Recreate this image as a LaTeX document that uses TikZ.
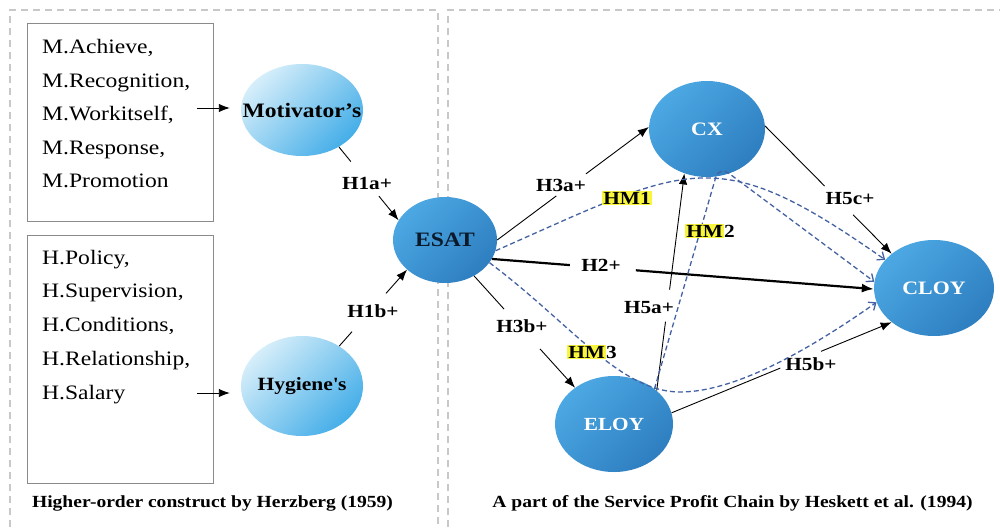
\documentclass[tikz,border=0pt]{standalone}
\usepackage{fontspec}
\setmainfont{Liberation Serif}[FakeStretch=1.15]
\usetikzlibrary{arrows.meta,shapes.geometric,calc}
\definecolor{lbA}{HTML}{D6EEFA}
\definecolor{lbB}{HTML}{45AEE8}
\definecolor{dbA}{HTML}{4CA8E3}
\definecolor{dbB}{HTML}{2E7EC0}
\definecolor{hmblue}{HTML}{4462A2}
\definecolor{hlyellow}{HTML}{F7F53C}
\definecolor{panelgray}{HTML}{C8C8C8}
\definecolor{boxgray}{HTML}{8A8A8A}
\definecolor{esattext}{HTML}{0B1A2B}
\newcommand\myfs[1]{\fontsize{#1}{#1}\selectfont}
\begin{document}
\begin{tikzpicture}[x=1pt,y=-1pt,
  panel/.style={draw=panelgray,line width=1.1pt,dash pattern=on 7pt off 5pt},
  listbox/.style={draw=boxgray,line width=0.9pt,inner sep=0pt},
  listtxt/.style={anchor=base west,inner sep=0pt,font=\myfs{20.5}},
  lightell/.style={ellipse,inner sep=0pt,top color=lbA,bottom color=lbB,shading angle=45,font=\bfseries\myfs{19}},
  darkell/.style={ellipse,inner sep=0pt,top color=dbA,bottom color=dbB,shading angle=45,text=white,font=\bfseries\myfs{19}},
  hyp/.style={inner sep=0pt,font=\bfseries\myfs{18.5}},
  hmlab/.style={inner sep=0pt,font=\bfseries\myfs{18.5}\setlength\fboxsep{1pt}},
  conn/.style={line width=0.9pt},
  arr/.style={line width=0.9pt,-{Latex[length=11pt,width=8.5pt]}},
  thickarr/.style={line width=2.2pt,-{Latex[length=12pt,width=9pt]}},
  hmpath/.style={draw=hmblue,line width=1.3pt,dash pattern=on 5pt off 3pt,-{Straight Barb[length=6pt,width=10pt]}},
  caption/.style={inner sep=0pt,font=\bfseries\myfs{17}}
]
\useasboundingbox (0,0) rectangle (1000,527);

% panels
\draw[panel] (10,527) -- (10,10) -- (438,10) -- (438,527);
\draw[panel] (448,527) -- (448,10) -- (1000,10);

% list boxes
\node[listbox,minimum width=186pt,minimum height=198pt] (mbox) at (120,122) {};
\node[listbox,minimum width=186pt,minimum height=248pt] (hbox) at (120,359) {};

\node[listtxt] (m1) at (42,53.5) {M.Achieve,};
\node[listtxt] (m2) at (42,87) {M.Recognition,};
\node[listtxt] (m3) at (42,120.5) {M.Workitself,};
\node[listtxt] (m4) at (42,154) {M.Response,};
\node[listtxt] (m5) at (42,187) {M.Promotion};

\node[listtxt] (h1) at (42,264) {H.Policy,};
\node[listtxt] (h2) at (42,297.5) {H.Supervision,};
\node[listtxt] (h3) at (42,331.5) {H.Conditions,};
\node[listtxt] (h4) at (42,365.5) {H.Relationship,};
\node[listtxt] (h5) at (42,399) {H.Salary};

% construct ellipses
\node[lightell,minimum width=122pt,minimum height=92pt,font=\bfseries\myfs{20.5}] (mot) at (302,110) {\makebox[0pt]{Motivator’s}};
\node[lightell,minimum width=122pt,minimum height=100pt,font=\bfseries\myfs{18.7}] (hyg) at (302,386) {\makebox[0pt]{Hygiene\textquotesingle s}};
\node[darkell,minimum width=104pt,minimum height=86pt,text=esattext,font=\bfseries\myfs{20.5}] (esat) at (445,240) {\makebox[0pt]{ESAT}};
\node[darkell,minimum width=116pt,minimum height=96pt] (cx) at (707,129) {\makebox[0pt]{CX}};
\node[darkell,minimum width=120pt,minimum height=96pt] (cloy) at (934,288) {\makebox[0pt]{CLOY}};
\node[darkell,minimum width=118pt,minimum height=96pt,font=\bfseries\myfs{18.5}] (eloy) at (614,424) {\makebox[0pt]{ELOY}};

% box arrows
\coordinate (ma) at (197,108);
\coordinate (ha) at (197,393);
\draw[arr,shorten >=11pt] (ma) -- (ma -| mot.west);
\draw[arr,shorten >=11pt] (ha) -- (ha -| hyg.west);

% hypothesis labels
\node[hyp] (l1a) at (367,183) {H1a+};
\node[hyp] (l1b) at (373,311) {H1b+};
\node[hyp] (l3a) at (561,185) {H3a+};
\node[hyp] (l2) at (601,265) {H2+};
\node[hyp] (l3b) at (522,326) {H3b+};
\node[hyp] (l5a) at (649,308) {H5a+};
\node[hyp] (l5b) at (811,364) {H5b+};
\node[hyp] (l5c) at (850,199) {H5c+};

% solid connectors (with gaps for labels)
\draw[conn] (mot.-45) -- ($(mot.-45)!0.2!(esat.157)$);
\draw[arr] ($(mot.-45)!0.67!(esat.157)$) -- (esat.157);

\draw[conn] (hyg.47) -- ($(hyg.47)!0.19!(esat.218)$);
\draw[arr] ($(hyg.47)!0.69!(esat.218)$) -- (esat.218);

\draw[conn] (esat.east) -- ($(esat.east)!0.39!(cx.178)$);
\draw[arr] ($(esat.east)!0.585!(cx.178)$) -- (cx.178);

\draw[line width=2.2pt] (esat.-22) -- ($(esat.-22)!0.204!(cloy.181)$);
\draw[thickarr] ($(esat.-22)!0.377!(cloy.181)$) -- (cloy.181);

\draw[conn] (esat.-51) -- ($(esat.-51)!0.297!(eloy.137)$);
\draw[arr] ($(esat.-51)!0.653!(eloy.137)$) -- (eloy.137);

\draw[conn] (eloy.38) -- ($(eloy.38)!0.318!(cx.243)$);
\draw[arr] ($(eloy.38)!0.465!(cx.243)$) -- (cx.243);

\draw[conn] (eloy.11) -- ($(eloy.11)!0.494!(cloy.219)$);
\draw[arr] ($(eloy.11)!0.679!(cloy.219)$) -- (cloy.219);

\draw[conn] (cx.3) -- ($(cx.3)!0.47!(cloy.141)$);
\draw[arr] ($(cx.3)!0.695!(cloy.141)$) -- (cloy.141);

% mediation paths
\coordinate (hm2v) at (719,166);
\draw[hmpath] (esat.-12) .. controls (690,165) and (715,140) .. (cloy.150);
\draw[hmpath,rounded corners=12pt] (eloy.41) -- (hm2v) -- (cloy.174);
\draw[hmpath] (esat.-27) .. controls (570,323) and (620,392) .. (680,392)
   .. controls (740,392) and (820,342) .. (cloy.194);

\node[hmlab] (hm1) at (627,198) {\colorbox{hlyellow}{HM1}};
\node[hmlab] (hm2) at (710,231) {\colorbox{hlyellow}{HM}2};
\node[hmlab] (hm3) at (592,352) {\colorbox{hlyellow}{HM}3};

% captions
\node[caption] (cap1) at (212.5,503) {Higher-order construct by Herzberg (1959)};
\node[caption] (cap2) at (732.5,503) {A part of the Service Profit Chain by Heskett et al. (1994)};
\end{tikzpicture}
\end{document}
